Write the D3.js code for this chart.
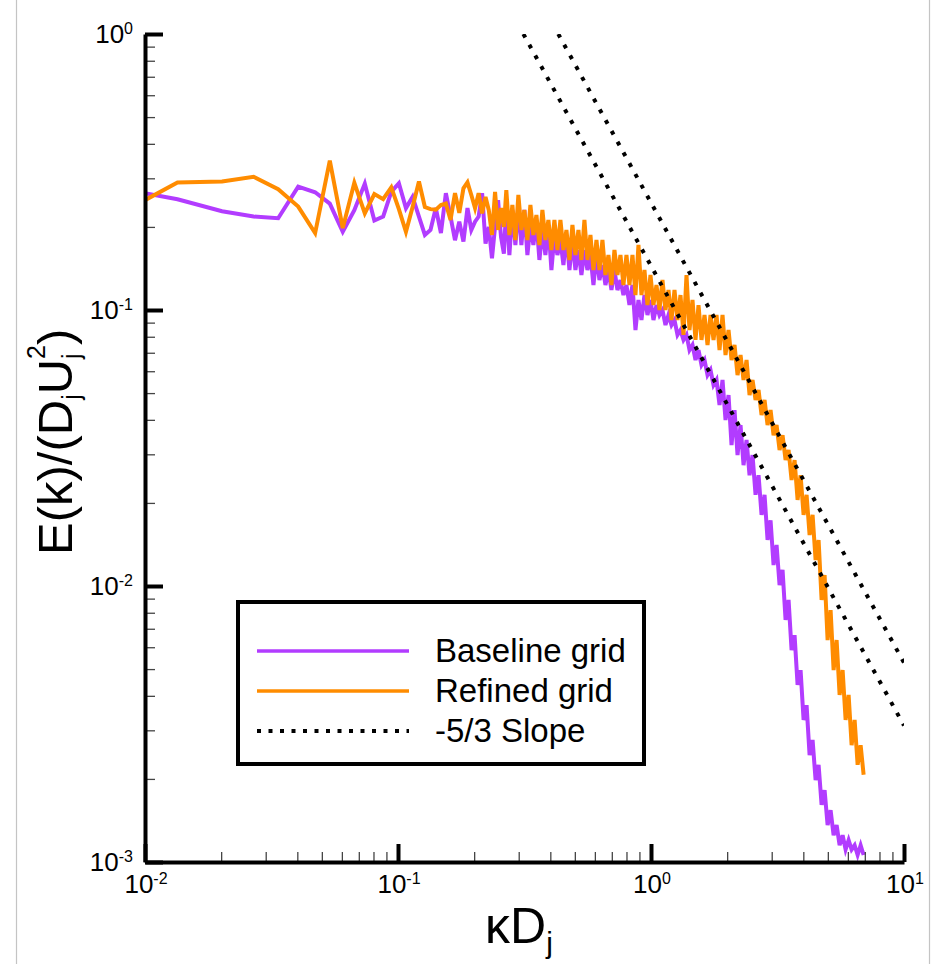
<!DOCTYPE html>
<html><head><meta charset="utf-8">
<script src="https://cdn.jsdelivr.net/npm/d3@7"></script>
<style>
body{margin:0;background:#fff}
svg{display:block}
text{font-family:'Liberation Sans',Arial,Helvetica,sans-serif;fill:#000}
</style>
</head><body>
<svg id="chart" width="934" height="964"></svg>
<script>
// ---------- DATA ----------
// low-wavenumber samples (k = n * dk)
const lowK = [0.00672,0.01344,0.02016,0.02688,0.0336,0.04032,0.04704,0.05376,0.06048,0.0672,
  0.07392,0.08064,0.08736,0.09408,0.1008,0.1075,0.1142,0.121,0.1277,0.1344,
  0.1411,0.1478,0.1546,0.1613,0.168,0.1747,0.1814,0.1882,0.1949,0.2016,
  0.2083,0.215,0.2218,0.2285,0.2352,0.2419,0.2486,0.2554,0.2621];
const baselineLowE = [0.283,0.252,0.228,0.218,0.215,0.280,0.267,0.243,0.192,0.230,
  0.287,0.211,0.218,0.268,0.288,0.234,0.257,0.218,0.187,0.195,
  0.234,0.190,0.265,0.218,0.179,0.209,0.177,0.234,0.195,0.209,
  0.218,0.265,0.174,0.200,0.154,0.200,0.250,0.184,0.160];
const refinedLowE = [0.205,0.290,0.292,0.304,0.274,0.237,0.190,0.348,0.198,0.289,
  0.224,0.263,0.252,0.278,0.232,0.192,0.236,0.292,0.236,0.232,
  0.231,0.240,0.243,0.212,0.265,0.225,0.276,0.290,0.261,0.234,
  0.265,0.224,0.257,0.230,0.187,0.268,0.195,0.234,0.200];

// high-wavenumber samples (dense, noisy part of the spectra)
const highK = [0.268,0.2756,0.2832,0.2911,0.2991,0.3074,0.3159,0.3247,0.3337,0.3429,
  0.3524,0.3622,0.3722,0.3825,0.3931,0.404,0.4152,0.4267,0.4385,0.4507,
  0.4632,0.476,0.4892,0.5027,0.5166,0.5309,0.5456,0.5607,0.5763,0.5923,
  0.6087,0.6255,0.6428,0.6606,0.6789,0.6977,0.717,0.7369,0.7573,0.7783,
  0.7998,0.822,0.8448,0.8682,0.8922,0.9169,0.9423,0.9684,0.9952,1.0228,
  1.0511,1.0802,1.1101,1.1409,1.1725,1.205,1.2384,1.2727,1.3079,1.3441,
  1.3814,1.4196,1.459,1.4994,1.5409,1.5836,1.6275,1.6726,1.7189,1.7665,
  1.8154,1.8657,1.9174,1.9705,2.0251,2.0812,2.1388,2.1981,2.259,2.3215,
  2.3858,2.4519,2.5198,2.5896,2.6614,2.7351,2.8108,2.8887,2.9687,3.0509,
  3.1354,3.2223,3.3115,3.4033,3.4975,3.5944,3.694,3.7963,3.9015,4.0095,
  4.1206,4.2348,4.3521,4.4726,4.5965,4.7238,4.8547,4.9892,5.1274,5.2694,
  5.4154,5.5654,5.7196,5.878,6.0408,6.2081,6.3801,6.5568,6.7384,6.925];
const baselineHighE = [0.2401,0.1582,0.2303,0.1720,0.2401,0.1720,0.2303,0.1582,0.2032,0.1720,
  0.2119,0.1518,0.1949,0.1582,0.2032,0.1396,0.1869,0.1582,0.1793,0.1455,
  0.1869,0.1396,0.1793,0.1396,0.1650,0.1339,0.1650,0.1396,0.1582,0.1232,
  0.1582,0.1284,0.1455,0.1232,0.1396,0.1181,0.1396,0.1181,0.1284,0.1133,
  0.1232,0.1042,0.1232,0.0846,0.1087,0.0920,0.1133,0.0959,0.1087,0.0920,
  0.1042,0.0959,0.1000,0.0882,0.0959,0.0882,0.0920,0.0812,0.0846,0.0779,
  0.0812,0.0716,0.0747,0.0659,0.0716,0.0632,0.0659,0.0581,0.0606,0.0535,
  0.0558,0.0453,0.0558,0.0399,0.0492,0.0324,0.0434,0.0298,0.0383,0.0274,
  0.0338,0.0252,0.0298,0.0214,0.0252,0.0181,0.0214,0.01468,0.0173,0.01191,
  0.01408,0.01008,0.01143,0.00753,0.0089,0.00586,0.00664,0.00438,0.00496,0.00327,
  0.0037,0.00244,0.00277,0.00198,0.00225,0.00161,0.00182,0.00136,0.00154,0.00125,
  0.00136,0.00115,0.00125,0.00111,0.0012,0.00111,0.00115,0.00106,0.00115,0.00106];
const refinedHighE = [0.2721,0.1869,0.2401,0.1793,0.2610,0.1949,0.2303,0.1793,0.2401,0.1869,
  0.2209,0.1720,0.2303,0.1793,0.2119,0.1650,0.2119,0.1650,0.2119,0.1650,
  0.1949,0.1518,0.2032,0.1582,0.1949,0.1518,0.2119,0.1518,0.1869,0.1396,
  0.1793,0.1396,0.1793,0.1339,0.1582,0.1232,0.1650,0.1339,0.1582,0.1232,
  0.1582,0.1232,0.1582,0.1133,0.1720,0.1133,0.1396,0.1042,0.1339,0.1042,
  0.1232,0.1000,0.1284,0.1000,0.1181,0.0920,0.1181,0.0920,0.1133,0.0812,
  0.1339,0.0846,0.1087,0.0779,0.1042,0.0779,0.0959,0.0747,0.0959,0.0779,
  0.0959,0.0716,0.0959,0.0687,0.0846,0.0659,0.0747,0.0581,0.0687,0.0558,
  0.0659,0.0492,0.0558,0.0472,0.0513,0.0416,0.0472,0.0383,0.0434,0.0352,
  0.0383,0.0311,0.0352,0.0286,0.0311,0.0242,0.0286,0.0205,0.0252,0.0181,
  0.0214,0.0153,0.0181,0.01242,0.01468,0.0089,0.01096,0.00637,0.00818,0.00496,
  0.00637,0.00403,0.00496,0.00327,0.00403,0.00265,0.00327,0.00225,0.00265,0.00207];

// -5/3 reference lines (end points)
const slopeLineA = [[0.313, 1.0], [10, 0.00312]];
const slopeLineB = [[0.43, 1.0], [10, 0.00527]];

const xMajorExp = [-2, -1, 0, 1];
const yMajorExp = [0, -1, -2, -3];
const seriesNames = ["Baseline grid", "Refined grid", "-5/3 Slope"];
const seriesColors = ["#b23cff", "#ff8c00", "#000000"];

// ---------- CHART ----------
const svg = d3.select("#chart");
const L = 145, R = 904, T = 34, B = 862;
const x = d3.scaleLog().domain([0.01, 10]).range([L, R]);
const y = d3.scaleLog().domain([0.001, 1]).range([B, T]);

// faint frame lines of the figure
svg.append("line").attr("x1", 16.5).attr("x2", 16.5).attr("y1", 0).attr("y2", 964)
  .attr("stroke", "#c4c4c4").attr("stroke-width", 1.2);
svg.append("line").attr("x1", 929.5).attr("x2", 929.5).attr("y1", 0).attr("y2", 964)
  .attr("stroke", "#c4c4c4").attr("stroke-width", 1.2);

svg.append("clipPath").attr("id", "plotclip").append("rect")
  .attr("x", L).attr("y", T).attr("width", R - L).attr("height", B - T);

const plot = svg.append("g").attr("clip-path", "url(#plotclip)");
const line = d3.line().x(d => x(d[0])).y(d => y(d[1]));

const baseline = lowK.map((k, i) => [k, baselineLowE[i]]).concat(highK.map((k, i) => [k, baselineHighE[i]]));
const refined = lowK.map((k, i) => [k, refinedLowE[i]]).concat(highK.map((k, i) => [k, refinedHighE[i]]));

plot.append("path").datum(baseline).attr("d", line)
  .attr("fill", "none").attr("stroke", seriesColors[0]).attr("stroke-width", 4);
plot.append("path").datum(refined).attr("d", line)
  .attr("fill", "none").attr("stroke", seriesColors[1]).attr("stroke-width", 4);
[slopeLineA, slopeLineB].forEach(s => {
  plot.append("path").datum(s).attr("d", line)
    .attr("fill", "none").attr("stroke", "#000").attr("stroke-width", 4)
    .attr("stroke-dasharray", "4 8.3");
});

// ---------- AXES ----------
const xMajor = xMajorExp.map(e => Math.pow(10, e));
const yMajor = yMajorExp.map(e => Math.pow(10, e));
const xMinor = [], yMinor = [];
for (let e = -2; e < 1; e++) for (let m = 2; m <= 9; m++) xMinor.push(m * Math.pow(10, e));
for (let e = -3; e < 0; e++) for (let m = 2; m <= 9; m++) yMinor.push(m * Math.pow(10, e));

const gxMin = svg.append("g").attr("transform", `translate(0,${B})`)
  .call(d3.axisBottom(x).tickValues(xMinor).tickSize(-10).tickFormat(""));
gxMin.select(".domain").remove();
gxMin.selectAll(".tick line").attr("stroke", "#444").attr("stroke-width", 1.3);

const gyMin = svg.append("g").attr("transform", `translate(${L},0)`)
  .call(d3.axisLeft(y).tickValues(yMinor).tickSize(-10).tickFormat(""));
gyMin.select(".domain").remove();
gyMin.selectAll(".tick line").attr("stroke", "#444").attr("stroke-width", 1.3);

const gx = svg.append("g").attr("transform", `translate(0,${B})`)
  .call(d3.axisBottom(x).tickValues(xMajor).tickSize(-18).tickSizeOuter(0).tickFormat(""));
gx.select(".domain").attr("stroke", "#000").attr("stroke-width", 4);
gx.selectAll(".tick line").attr("stroke", "#000").attr("stroke-width", 4);

const gy = svg.append("g").attr("transform", `translate(${L},0)`)
  .call(d3.axisLeft(y).tickValues(yMajor).tickSize(-18).tickSizeOuter(0).tickFormat(""));
gy.select(".domain").attr("stroke", "#000").attr("stroke-width", 4);
gy.selectAll(".tick line").attr("stroke", "#000").attr("stroke-width", 4);

// tick labels with superscripts
xMajorExp.forEach(e => {
  const t = svg.append("text").attr("x", x(Math.pow(10, e)) + 1).attr("y", B + 31)
    .attr("text-anchor", "middle").style("font-size", "26px");
  t.append("tspan").style("font-size", "26px").text("10");
  t.append("tspan").attr("dy", -9).style("font-size", "16px").text(e);
});
yMajorExp.forEach(e => {
  const t = svg.append("text").attr("x", 133).attr("y", y(Math.pow(10, e)) + 9)
    .attr("text-anchor", "end").style("font-size", "26px");
  t.append("tspan").style("font-size", "26px").text("10");
  t.append("tspan").attr("dy", -9).style("font-size", "16px").text(e);
});

// axis titles
const xt = svg.append("text").attr("x", 519).attr("y", 943)
  .attr("text-anchor", "middle").style("font-size", "50px");
xt.append("tspan").text("\u03BAD");
xt.append("tspan").attr("dy", 10).style("font-size", "30px").text("j");

const yt = svg.append("text").attr("transform", "translate(72,555) rotate(-90)")
  .attr("text-anchor", "start").style("font-size", "49px");
yt.append("tspan").text("E(k)/(D");
yt.append("tspan").attr("dy", 8).style("font-size", "25px").text("j");
yt.append("tspan").attr("dy", -8).text("U");
yt.append("tspan").attr("dy", 8).style("font-size", "25px").text("j");
yt.append("tspan").attr("dx", -5.6).attr("dy", -35).style("font-size", "25px").text("2");
yt.append("tspan").attr("dy", 27).text(")");

// ---------- LEGEND ----------
const lg = svg.append("g");
lg.append("rect").attr("x", 238).attr("y", 602).attr("width", 406).attr("height", 162)
  .attr("fill", "#fff").attr("stroke", "#000").attr("stroke-width", 4);
seriesNames.forEach((name, i) => {
  const yy = 651 + i * 40;
  const l = lg.append("line").attr("x1", 257).attr("x2", 409).attr("y1", yy).attr("y2", yy)
    .attr("stroke", seriesColors[i]).attr("stroke-width", i === 2 ? 4 : 3.5);
  if (i === 2) l.attr("stroke-dasharray", "4 7.5");
  lg.append("text").attr("x", 435).attr("y", yy + 11).style("font-size", "33px").text(name);
});
</script>
</body></html>
